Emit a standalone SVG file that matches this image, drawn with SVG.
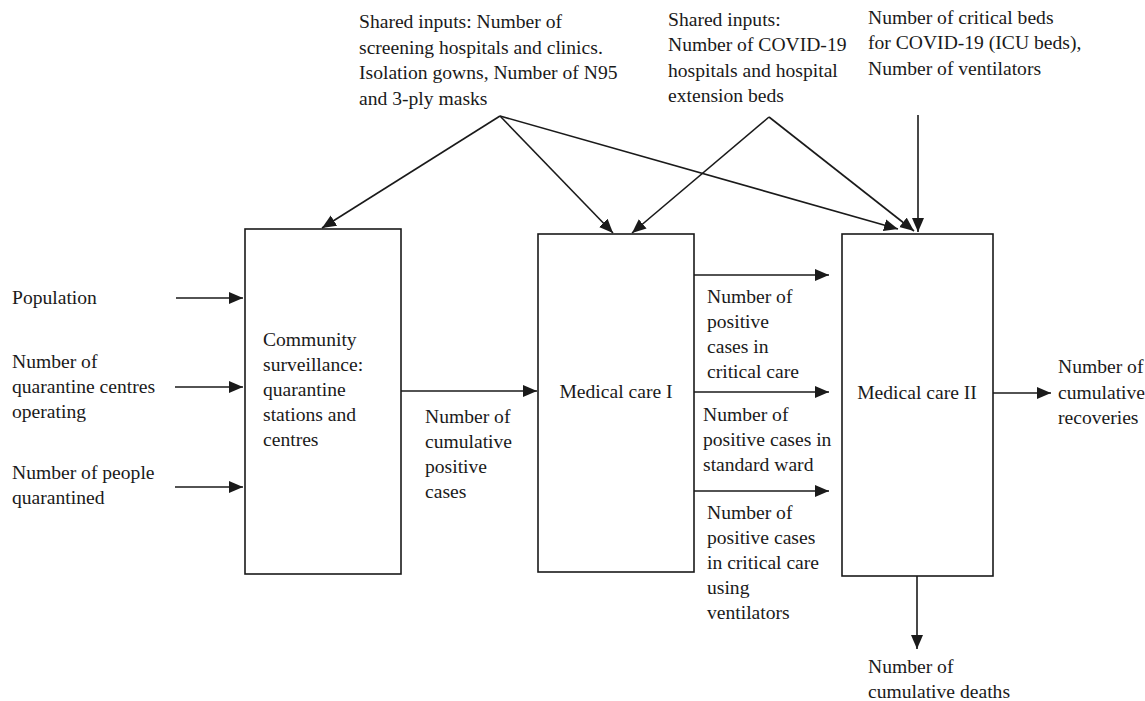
<svg xmlns="http://www.w3.org/2000/svg" width="1145" height="701" viewBox="0 0 1145 701">
<style>
text{font-family:"Liberation Serif","Times New Roman",serif;font-size:19.6px;fill:#1a1a1a}
.box{fill:none;stroke:#1a1a1a;stroke-width:1.6}
.c line{stroke:#1a1a1a;stroke-width:1.6;marker-end:url(#ah)}
</style>
<defs>
<marker id="ah" markerUnits="userSpaceOnUse" markerWidth="15" markerHeight="13" refX="14" refY="6" orient="auto">
<path d="M0,0 L14,6 L0,12 z" fill="#1a1a1a"/>
</marker>
</defs>
<g id="label-shared1">
<text x="359" y="28">Shared inputs: Number of</text>
<text x="359" y="54">screening hospitals and clinics.</text>
<text x="359" y="79">Isolation gowns, Number of N95</text>
<text x="359" y="105">and 3-ply masks</text>
</g>
<g id="label-shared2">
<text x="668" y="26">Shared inputs:</text>
<text x="668" y="51">Number of COVID-19</text>
<text x="668" y="77">hospitals and hospital</text>
<text x="668" y="102">extension beds</text>
</g>
<g id="label-critical">
<text x="868" y="24">Number of critical beds</text>
<text x="868" y="49">for COVID-19 (ICU beds),</text>
<text x="868" y="75">Number of ventilators</text>
</g>
<g id="label-inputs">
<text x="12" y="304">Population</text>
<text x="12" y="368">Number of</text>
<text x="12" y="393">quarantine centres</text>
<text x="12" y="418">operating</text>
<text x="12" y="479">Number of people</text>
<text x="12" y="504">quarantined</text>
</g>
<g id="node-community">
<rect class="box" x="245" y="229" width="156" height="345"/>
<text x="263" y="346">Community</text>
<text x="263" y="371">surveillance:</text>
<text x="263" y="396">quarantine</text>
<text x="263" y="421">stations and</text>
<text x="263" y="446">centres</text>
</g>
<g id="node-medical1">
<rect class="box" x="538" y="234" width="156" height="338"/>
<text x="616" y="398" text-anchor="middle">Medical care I</text>
</g>
<g id="node-medical2">
<rect class="box" x="842" y="234" width="151" height="342"/>
<text x="917" y="399" text-anchor="middle">Medical care II</text>
</g>
<g id="label-positive">
<text x="425" y="423">Number of</text>
<text x="425" y="448">cumulative</text>
<text x="425" y="473">positive</text>
<text x="425" y="498">cases</text>
</g>
<g id="label-critical-care">
<text x="707" y="303">Number of</text>
<text x="707" y="328">positive</text>
<text x="707" y="353">cases in</text>
<text x="707" y="378">critical care</text>
</g>
<g id="label-standard">
<text x="703" y="421">Number of</text>
<text x="703" y="446">positive cases in</text>
<text x="703" y="471">standard ward</text>
</g>
<g id="label-ventilators">
<text x="707" y="519">Number of</text>
<text x="707" y="544">positive cases</text>
<text x="707" y="569">in critical care</text>
<text x="707" y="594">using</text>
<text x="707" y="619">ventilators</text>
</g>
<g id="label-recoveries">
<text x="1058" y="373">Number of</text>
<text x="1058" y="399">cumulative</text>
<text x="1058" y="424">recoveries</text>
</g>
<g id="label-deaths">
<text x="868" y="673">Number of</text>
<text x="868" y="698">cumulative deaths</text>
</g>
<g id="connectors" class="c">
<line x1="500" y1="116" x2="322" y2="228"/>
<line x1="500" y1="116" x2="613" y2="233"/>
<line x1="500" y1="116" x2="898" y2="229"/>
<line x1="769" y1="117" x2="632" y2="233"/>
<line x1="769" y1="117" x2="914" y2="231"/>
<line x1="918" y1="115" x2="918" y2="232"/>
<line x1="176" y1="298" x2="243" y2="298"/>
<line x1="175" y1="387" x2="243" y2="387"/>
<line x1="175" y1="487" x2="243" y2="487"/>
<line x1="401" y1="391" x2="537" y2="391"/>
<line x1="694" y1="275" x2="829" y2="275"/>
<line x1="694" y1="392" x2="829" y2="392"/>
<line x1="694" y1="491" x2="829" y2="491"/>
<line x1="993" y1="393" x2="1051" y2="393"/>
<line x1="917" y1="576" x2="917" y2="649"/>
</g>
</svg>
